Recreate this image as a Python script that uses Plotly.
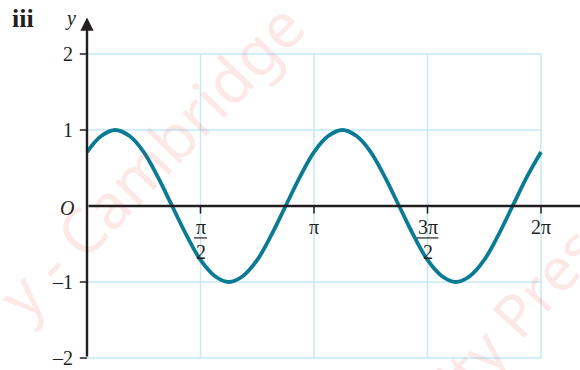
import numpy as np
import plotly.graph_objects as go

# Curve samples: x in multiples of pi (step pi/16), y
x_over_pi = [k / 16 for k in range(33)]
y_vals = [0.71, 0.92, 1.00, 0.92, 0.71, 0.38, 0.00, -0.38, -0.71, -0.92, -1.00,
          -0.92, -0.71, -0.38, 0.00, 0.38, 0.71, 0.92, 1.00, 0.92, 0.71, 0.38,
          0.00, -0.38, -0.71, -0.92, -1.00, -0.92, -0.71, -0.38, 0.00, 0.38, 0.71]

# Axis ticks
x_ticks_over_pi = [0.5, 1.0, 1.5, 2.0]
y_ticks = [2, 1, -1, -2]
y_tick_labels = ["2", "1", "\u20131", "\u20132"]

x_vals = [v * np.pi for v in x_over_pi]

TWO_PI = 2 * np.pi
CURVE = "#0b7b94"
GRID = "#c6e8f7"
INK = "#231f20"
SERIF = "Liberation Serif, Times New Roman, serif"

fig = go.Figure()
fig.add_trace(go.Scatter(x=x_vals, y=y_vals, mode="lines",
                         line=dict(color=CURVE, width=3.8, shape="spline", smoothing=1.0),
                         hoverinfo="skip", showlegend=False))

shapes = []
# grid inside the box [0, 2pi] x [-2, 2]
for t in x_ticks_over_pi:
    shapes.append(dict(type="line", x0=t * np.pi, x1=t * np.pi, y0=-2, y1=2,
                       line=dict(color=GRID, width=1.5), layer="below"))
for yv in y_ticks:
    shapes.append(dict(type="line", x0=0, x1=TWO_PI, y0=yv, y1=yv,
                       line=dict(color=GRID, width=1.5), layer="below"))

# tick marks
for t in x_ticks_over_pi:
    shapes.append(dict(type="line", x0=t * np.pi, x1=t * np.pi, y0=0, y1=-0.1,
                       line=dict(color=INK, width=1.5)))
for yv in y_ticks:
    shapes.append(dict(type="line", x0=-0.1, x1=0, y0=yv, y1=yv,
                       line=dict(color=INK, width=1.5)))

annotations = []

# publisher watermark (drawn first so it sits beneath the other labels)
WM = "rgba(235,50,50,0.11)"
annotations.append(dict(x=150 / 580, y=1 - 160 / 370, xref="paper", yref="paper",
                        xanchor="center", yanchor="middle",
                        text="y - Cambridge", showarrow=False, textangle=-46,
                        font=dict(family="Noto Sans, sans-serif", size=62, color=WM)))
annotations.append(dict(x=526 / 580, y=1 - 302 / 370, xref="paper", yref="paper",
                        xanchor="center", yanchor="middle",
                        text="ity Press", showarrow=False, textangle=-48,
                        font=dict(family="Noto Sans, sans-serif", size=60, color=WM)))

# axes with arrowheads
annotations.append(dict(x=7.32, y=0, ax=0, ay=0, xref="x", yref="y", axref="x", ayref="y",
                        showarrow=True, arrowhead=2, arrowsize=1.1, arrowwidth=2.4,
                        arrowcolor=INK, text=""))
annotations.append(dict(x=0, y=2.48, ax=0, ay=-2.0, xref="x", yref="y", axref="x", ayref="y",
                        showarrow=True, arrowhead=2, arrowsize=1.1, arrowwidth=2.4,
                        arrowcolor=INK, text=""))

# y tick labels
for yv, lab in zip(y_ticks, y_tick_labels):
    annotations.append(dict(x=-0.17, y=yv, xref="x", yref="y", text=lab, showarrow=False,
                            xanchor="right", yanchor="middle",
                            font=dict(family=SERIF, size=20, color=INK)))

# x tick labels
def lbl(x, y, text, size=20, italic=False):
    t = f"<i>{text}</i>" if italic else text
    annotations.append(dict(x=x, y=y, xref="x", yref="y", text=t, showarrow=False,
                            xanchor="center", yanchor="middle",
                            font=dict(family=SERIF, size=size, color=INK)))

lbl(0.5 * np.pi, -0.28, "\u03c0")
lbl(0.5 * np.pi, -0.6, "2")
lbl(1.0 * np.pi, -0.28, "\u03c0")
lbl(1.5 * np.pi, -0.28, "3\u03c0")
lbl(1.5 * np.pi, -0.6, "2")
lbl(2.0 * np.pi, -0.28, "2\u03c0")
for t, half in ((0.5, 0.09), (1.5, 0.15)):
    shapes.append(dict(type="line", x0=t * np.pi - half, x1=t * np.pi + half,
                       y0=-0.42, y1=-0.42, line=dict(color=INK, width=1.2)))

lbl(-0.27, -0.03, "O", italic=True)
lbl(7.7, -0.22, "x", italic=True)
lbl(-0.23, 2.47, "y", italic=True)
annotations.append(dict(x=-0.88, y=2.47, xref="x", yref="y", text="<b>iii</b>",
                        showarrow=False, xanchor="center", yanchor="middle",
                        font=dict(family=SERIF, size=26, color=INK)))

# pixel mapping: x=0 at 87px, x=2pi at 541px; y=0 at 206px, 76px per unit
px_x = 454 / TWO_PI
x_range = [-87 / px_x, TWO_PI + 39 / px_x]
y_range = [-164 / 76, 206 / 76]

fig.update_layout(
    width=580, height=370,
    margin=dict(l=0, r=0, t=0, b=0),
    paper_bgcolor="white", plot_bgcolor="white",
    xaxis=dict(range=x_range, visible=False, fixedrange=True),
    yaxis=dict(range=y_range, visible=False, fixedrange=True),
    shapes=shapes, annotations=annotations,
    showlegend=False,
)

fig.write_html("out.html")
